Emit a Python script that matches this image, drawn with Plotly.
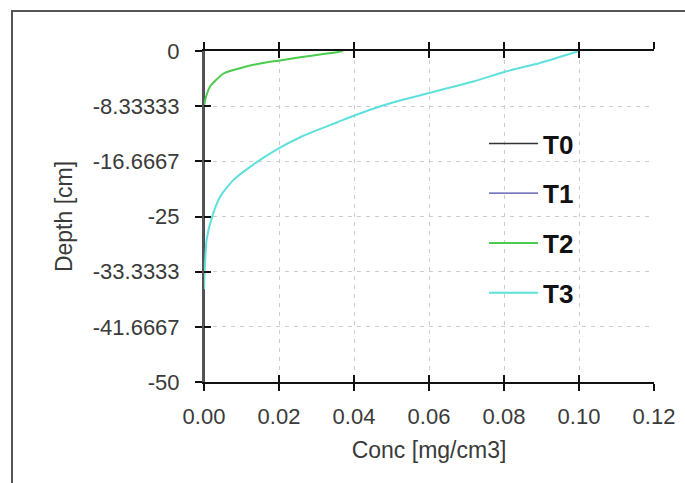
import plotly.graph_objects as go

# ---- data ----
t0_conc = [0.0, 0.0]
t0_depth = [0.0, -50.0]
t1_conc = [0.0, 0.0]
t1_depth = [0.0, -50.0]

t2_conc = [0.0000, 0.0005, 0.0016, 0.0052, 0.0096, 0.0140, 0.0198, 0.0256, 0.0318, 0.0353, 0.0370]
t2_depth = [-8.4, -7.0, -5.4, -3.4, -2.6, -2.0, -1.46, -0.96, -0.45, -0.2, 0.0]

t3_conc = [0.0000, 0.0002, 0.0007, 0.0023, 0.0043, 0.0078, 0.0123, 0.0190, 0.0265, 0.0354,
           0.0403, 0.0490, 0.0603, 0.0718, 0.0805, 0.0896, 0.1000]
t3_depth = [-36.0, -33.0, -28.5, -24.8, -22.0, -19.5, -17.5, -15.0, -12.8, -10.8,
            -9.7, -8.0, -6.3, -4.6, -3.1, -1.8, 0.0]

x_ticks = [0.0, 0.02, 0.04, 0.06, 0.08, 0.10, 0.12]
x_labels = ["0.00", "0.02", "0.04", "0.06", "0.08", "0.10", "0.12"]
y_ticks = [0, -8.33333, -16.6667, -25, -33.3333, -41.6667, -50]
y_labels = ["0", "-8.33333", "-16.6667", "-25", "-33.3333", "-41.6667", "-50"]

# drawing order: T1, T0 (both along the axis), then T2, T3; legend order via rank
series = [
    ("T1", t1_conc, t1_depth, "#4848a8", 1.2, 2),
    ("T0", t0_conc, t0_depth, "#333333", 1.5, 1),
    ("T2", t2_conc, t2_depth, "#4ccc4c", 2, 3),
    ("T3", t3_conc, t3_depth, "#5ee0dc", 2, 4),
]

fig = go.Figure()
for name, xs, ys, col, w, rank in series:
    fig.add_trace(go.Scatter(x=xs, y=ys, mode="lines", name=name, legendgroup=name,
                             legendrank=rank,
                             line=dict(color=col, width=w, shape="spline", smoothing=0.6)))

# invisible trace to carry the inner-tick overlay axes
fig.add_trace(go.Scatter(x=t0_conc, y=t0_depth, xaxis="x2", yaxis="y2", mode="lines",
                         line=dict(width=0), opacity=0, showlegend=False, hoverinfo="skip"))

L, T, W, H = 204, 51, 450, 331
FW, FH = 685, 483
FONT = "Liberation Sans, Arial, sans-serif"
GRID = dict(showgrid=True, gridcolor="#cccccc", griddash="4px,5px", gridwidth=1)
fig.update_layout(
    width=FW, height=FH,
    margin=dict(l=L, r=FW - L - W, t=T, b=FH - T - H, autoexpand=False),
    paper_bgcolor="white", plot_bgcolor="white",
    font=dict(family=FONT, color="#3a3a3a", size=22),
    showlegend=True,
    legend=dict(x=(484 - L) / W, y=1 - (120 - T) / H, xanchor="left", yanchor="top",
                font=dict(size=26, color="#111111", family=FONT, weight="bold"),
                bgcolor="rgba(0,0,0,0)", tracegroupgap=13, itemwidth=49,
                traceorder="grouped"),
    xaxis=dict(range=[0, 0.12], tickvals=x_ticks, ticktext=x_labels,
               showline=True, linecolor="#111111", linewidth=2, mirror="ticks",
               ticks="outside", ticklen=7, tickcolor="#111111", tickwidth=1.5,
               zeroline=False, ticklabelstandoff=7, **GRID,
               title=dict(text="Conc [mg/cm3]", font=dict(size=23), standoff=13)),
    yaxis=dict(range=[-50, 0], tickvals=y_ticks, ticktext=y_labels,
               showline=True, linecolor="#555555", linewidth=2,
               ticks="outside", ticklen=7, tickcolor="#111111", tickwidth=1.5,
               zeroline=False, ticklabelstandoff=11, **GRID,
               title=dict(text="Depth [cm]", font=dict(size=23), standoff=14)),
    xaxis2=dict(range=[0, 0.12], tickvals=x_ticks, overlaying="x", side="bottom",
                showline=False, mirror="ticks", ticks="inside", ticklen=7,
                tickcolor="#111111", tickwidth=1.5, showticklabels=False,
                showgrid=False, zeroline=False),
    yaxis2=dict(range=[-50, 0], tickvals=y_ticks, overlaying="y", side="left",
                showline=False, ticks="inside", ticklen=7, tickcolor="#111111",
                tickwidth=1.5, showticklabels=False, showgrid=False, zeroline=False),
    shapes=[dict(type="rect", xref="paper", yref="paper",
                 x0=(12 - L) / W, x1=(695 - L) / W,
                 y0=-(495 - T - H) / H, y1=1 + (T - 11) / H,
                 line=dict(color="#555555", width=2), fillcolor="rgba(0,0,0,0)",
                 layer="below")],
)

fig.write_html("out.html", config={"displayModeBar": False},
               post_script="document.body.style.margin='0px';")
